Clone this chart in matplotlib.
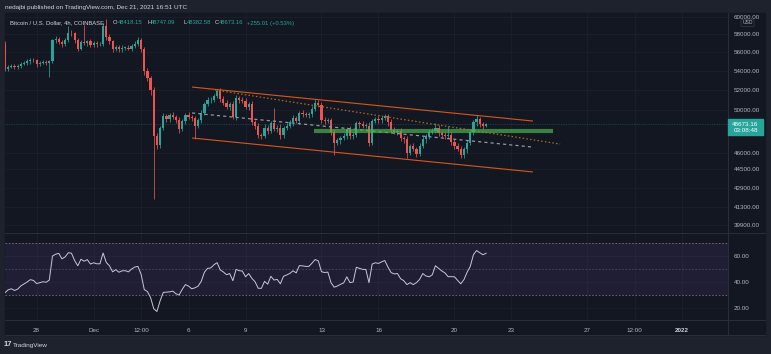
import matplotlib.pyplot as plt
import pandas as pd
from matplotlib.patches import Rectangle
from matplotlib.lines import Line2D

W, H = 771, 354

# 4h candles starting Nov 26 2021 08:00 UTC
start = pd.Timestamp('2021-11-26 08:00')
first_open = 56900
closes = [
    54200, 54450, 54550, 54350, 54500, 54750, 54850, 55000, 55200, 55100,
    54700, 54850, 54950, 54850, 55050, 57300, 57500, 57100, 56900, 57300,
    58200, 58100, 57300, 56400, 57100, 57000, 57200, 56800, 57000, 56900,
    56900, 58900, 57700, 57200, 56300, 56600, 56300, 56500, 56500, 56400,
    56700, 56900, 57300, 56300, 54000, 53200, 52000, 47500, 46700, 48300,
    49400, 49100, 49500, 49300, 49000, 48200, 48900, 49500, 49300, 49200,
    48500, 49000, 49700, 50600, 51000, 51000, 51400, 51900, 51100, 50700,
    50300, 50600, 49300, 51200, 51000, 50900, 50300, 50600, 48800, 48500,
    47600, 47500, 48300, 48000, 48700, 48200, 48300, 47600, 48300, 48500,
    48800, 49200, 48900, 49700, 49600, 49500, 49600, 50100, 50700, 50500,
    49000, 48900, 49000, 47900, 46900, 47100, 47300, 47500, 48200, 47500,
    47600, 48700, 48600, 48500, 48500, 46900, 48900, 49100, 49000, 49200,
    49400, 48800, 48100, 47900, 48000, 47300, 47200, 46000, 46600, 46300,
    45900, 46600, 47200, 47500, 47900, 48000, 48300, 47800, 47600, 47500,
    47600, 47000, 46600, 46300, 45800, 46300, 46900, 47900, 48800, 49100,
    48600, 48418.15, 48673.16,
]
upper_wick = [
    300, 150, 200, 150, 200, 150, 200, 250, 150, 200,
    150, 200, 150, 250, 150, 200, 300, 250, 200, 300,
    800, 300, 200, 250, 300, 2000, 200, 300, 200, 250,
    200, 400, 900, 300, 200, 250, 200, 300, 150, 250,
    200, 300, 400, 250, 300, 250, 200, 300, 250, 200,
    300, 250, 200, 300, 250, 300, 250, 200, 300, 250,
    200, 250, 300, 200, 250, 300, 200, 200, 300, 250,
    300, 200, 250, 300, 200, 250, 300, 200, 250, 200,
    250, 200, 300, 250, 200, 1500, 250, 300, 200, 250,
    200, 300, 250, 200, 300, 250, 200, 250, 400, 300,
    250, 300, 200, 250, 300, 200, 250, 300, 200, 250,
    300, 250, 200, 300, 250, 300, 200, 250, 300, 200,
    250, 200, 300, 250, 200, 300, 250, 300, 200, 250,
    200, 250, 300, 200, 250, 300, 400, 250, 200, 300,
    900, 250, 200, 300, 250, 200, 250, 300, 200, 400,
    250, 200, 74,
]
lower_wick = [
    200, 250, 200, 150, 200, 250, 150, 200, 250, 200,
    250, 200, 150, 250, 1500, 200, 250, 200, 300, 250,
    200, 300, 250, 300, 200, 250, 300, 200, 250, 300,
    250, 200, 300, 250, 300, 200, 250, 300, 250, 200,
    300, 250, 200, 300, 400, 300, 500, 5500, 400, 300,
    250, 300, 250, 200, 300, 400, 250, 300, 200, 300,
    1300, 250, 300, 200, 250, 300, 200, 250, 300, 200,
    250, 300, 200, 250, 300, 200, 250, 300, 250, 300,
    300, 250, 200, 300, 250, 200, 300, 350, 250, 200,
    250, 300, 200, 250, 300, 200, 250, 300, 200, 250,
    300, 250, 200, 300, 1100, 250, 300, 200, 250, 300,
    250, 200, 300, 250, 200, 300, 250, 200, 300, 250,
    200, 300, 250, 200, 300, 250, 300, 500, 250, 200,
    300, 250, 200, 300, 250, 200, 250, 300, 200, 250,
    200, 300, 250, 200, 300, 250, 300, 200, 250, 300,
    200, 250, 36,
]
rsi = [
    31.8, 34.0, 34.8, 33.5, 34.5, 37.0, 38.5, 40.0, 41.8, 41.2,
    38.8, 39.5, 40.2, 39.8, 41.5, 60.0, 61.4, 62.0, 57.8, 59.3,
    62.5, 62.2, 56.5, 52.5, 57.5, 56.0, 57.2, 53.8, 54.8, 54.0,
    54.0, 62.3, 55.0, 52.5, 47.8, 49.5, 47.5, 48.6, 48.7, 47.8,
    50.0, 51.5, 52.0, 46.0, 34.2, 32.6, 28.0, 19.5, 17.3, 25.5,
    32.0, 32.2, 32.4, 33.0, 31.0, 30.0, 34.4, 38.0, 36.8, 34.8,
    35.5, 36.8, 40.5, 47.5, 50.5, 50.8, 53.2, 54.9, 49.3, 47.7,
    45.6, 46.5, 41.0, 49.7, 48.7, 48.4, 44.0, 46.5, 42.8, 40.2,
    35.2, 35.1, 40.5, 38.3, 44.4, 41.5, 42.0, 38.6, 44.4, 45.4,
    46.6, 48.6, 47.0, 52.6, 52.4, 52.0, 52.0, 54.5, 57.3, 56.2,
    47.9, 47.3, 47.6, 39.5, 36.0, 36.9, 38.2, 39.3, 44.0, 39.5,
    40.0, 51.3, 50.5, 49.7, 49.7, 39.5, 53.8, 54.8, 54.3, 55.5,
    56.5, 51.5, 47.2, 46.2, 46.5, 42.5, 41.0, 38.0, 39.5, 38.0,
    39.5, 42.0, 46.5, 44.6, 44.0, 45.5, 52.5, 50.5, 48.5, 47.0,
    44.1, 44.1, 44.0, 41.3, 38.6, 41.8, 47.5, 52.0, 61.0, 64.2,
    62.5, 61.0, 62.1,
]

# 48000 sits under the last-price badge, so it is not listed
price_ticks = [60000, 58000, 56000, 54000, 52000, 50000, 46000,
               44500, 42900, 41300, 39900]
rsi_ticks = [60, 40, 20]
time_ticks = ['2021-11-28', '2021-12-01', '2021-12-03 12:00', '2021-12-06',
              '2021-12-09', '2021-12-13', '2021-12-16', '2021-12-20',
              '2021-12-23', '2021-12-27', '2021-12-29 12:00', '2022-01-01']
time_labels = ['28', 'Dec', '12:00', '6', '9', '13', '16', '20', '23', '27',
               '12:00', '2022']

# drawings as (bar index, price)
channel_top = [(59.1, 52300), (166.8, 48930)]
channel_bottom = [(59.1, 47330), (166.8, 44280)]
trend_dotted = [(66.4, 52000), (175.4, 46770)]
mid_dashed = [(59.1, 49710), (166.5, 46500)]
support = [(97.6, 47980), (173.1, 47980)]

last = {'O': '48418.15', 'H': '48747.09', 'L': '48382.58', 'C': '48673.16'}
change = '+255.01 (+0.53%)'

BG = '#131722'
FRAME = '#1e222d'
GRID = '#1c202c'
SEP = '#2a2e39'
TXT = '#b2b5be'
UP = '#26a69a'
DOWN = '#ef5350'

plt.rcParams['font.family'] = ['Liberation Sans', 'DejaVu Sans']
plt.rcParams['font.size'] = 4.5

fig = plt.figure(figsize=(W / 100, H / 100), dpi=100, facecolor=FRAME)


def fx(px):
    return px / W


def fy(py):
    return 1 - py / H


def pane(x0, y0, x1, y1):
    return fig.add_axes([fx(x0), fy(y1), (x1 - x0) / W, (y1 - y0) / H])


# chart background
fig.add_artist(Rectangle((fx(5), fy(335)), (765 - 5) / W, (335 - 13) / H,
                         transform=fig.transFigure, color=BG, zorder=0))

ax = pane(5, 13, 728, 233)
ax_rsi = pane(5, 233, 728, 320)

n = len(closes)
idx = list(range(n))
opens = [first_open] + closes[:-1]
highs = [max(o, c) + u for o, c, u in zip(opens, closes, upper_wick)]
lows = [min(o, c) - d for o, c, d in zip(opens, closes, lower_wick)]
colors = [UP if c >= o else DOWN for o, c in zip(opens, closes)]

xmin, xmax = 0, 723 / 3.165
t_pos = [(pd.Timestamp(t) - start) / pd.Timedelta(hours=4) for t in time_ticks]

for a in (ax, ax_rsi):
    a.set_facecolor(BG)
    a.set_xlim(xmin, xmax)
    for s in a.spines.values():
        s.set_visible(False)
    a.tick_params(length=0, colors=TXT, labelsize=4.5)
    a.set_xticks(t_pos)
    a.grid(True, color=GRID, lw=0.6)
    a.set_axisbelow(True)
    a.yaxis.tick_right()
    a.tick_params(axis='y', pad=4.3)

# main pane
ax.set_yscale('log')
ax.set_ylim(50000 * 2.718281828 ** (-123 / 510), 50000 * 2.718281828 ** (97 / 510))
ax.set_yticks(price_ticks, [f'{p:.2f}' for p in price_ticks])
ax.minorticks_off()
ax.tick_params(axis='x', labelbottom=False)
for lab in ax.get_yticklabels():
    lab.set_horizontalalignment('left')

ax.vlines(idx, lows, highs, colors=colors, lw=0.55, zorder=3)
ax.bar(idx, [max(abs(c - o), 25) for o, c in zip(opens, closes)],
       bottom=[min(o, c) for o, c in zip(opens, closes)], width=0.7,
       color=colors, lw=0, zorder=4)

ax.axhline(closes[-1], color=UP, lw=0.5, ls=(0, (1, 1.5)), alpha=0.55, zorder=2)

for pts, col, lw, ls, alpha in [
    (channel_top, '#d9571c', 0.8, '-', 1),
    (channel_bottom, '#d9571c', 0.8, '-', 1),
    (trend_dotted, '#b06a1c', 0.9, (0, (1.2, 1.8)), 1),
    (mid_dashed, '#9598a1', 0.9, (0, (2.5, 2.5)), 1),
    (support, '#4caf50', 3.0, '-', 0.7),
]:
    ax.plot([p[0] for p in pts], [p[1] for p in pts], color=col, lw=lw,
            ls=ls, alpha=alpha, zorder=5, solid_capstyle='butt')

# RSI pane
ax_rsi.set_ylim(20 - 12 / 1.3, 60 + 23 / 1.3)
ax_rsi.set_yticks(rsi_ticks, [f'{v:.2f}' for v in rsi_ticks])
for lab in ax_rsi.get_yticklabels():
    lab.set_horizontalalignment('left')
ax_rsi.axhspan(30, 70, color='#7e57c2', alpha=0.12, lw=0, zorder=1)
for lvl, al in [(70, 0.9), (50, 0.5), (30, 0.9)]:
    ax_rsi.axhline(lvl, color='#787b86', lw=0.6, ls=(0, (2, 2)), alpha=al, zorder=2)
ax_rsi.plot(idx, rsi, color='#c9c6d8', lw=0.7, zorder=4)
ax_rsi.set_xticklabels(time_labels)
ax_rsi.tick_params(axis='x', pad=5.5)
lab = ax_rsi.get_xticklabels()[-1]
lab.set_fontweight('bold')
lab.set_color('#d1d4dc')

# separators
for x0, y0, x1, y1 in [(5, 233, 765, 233), (5, 320, 765, 320),
                       (728, 13, 728, 335), (5, 335, 765, 335)]:
    fig.add_artist(Line2D([fx(x0), fx(x1)], [fy(y0), fy(y1)],
                          transform=fig.transFigure, color=SEP, lw=0.7))

# last price label
fig.add_artist(Rectangle((fx(728), fy(135)), 35 / W, 16 / H,
                         transform=fig.transFigure, color=UP, zorder=5))
fig.text(fx(745.5), fy(124.5), last['C'], color='white', ha='center',
         va='center', fontsize=4.5, zorder=6)
fig.text(fx(745.5), fy(131), '03:08:48', color='white', ha='center',
         va='center', fontsize=4.5, zorder=6)

# USD badge
fig.text(fx(747.5), fy(23), 'USD', color=TXT, ha='center', va='center',
         fontsize=3.6, zorder=6,
         bbox=dict(boxstyle='round,pad=0.25', fc=BG, ec='#434651', lw=0.4))

# header
fig.text(fx(5), fy(7), 'nedajbi published on TradingView.com, Dec 21, 2021 16:51 UTC',
         color='#d1d4dc', ha='left', va='center', fontsize=4.6)
LEG = 4.2
fig.text(fx(10), fy(23), 'Bitcoin / U.S. Dollar, 4h, COINBASE', color='#d1d4dc',
         ha='left', va='center', fontsize=LEG)
for (k, v), x, off in zip(last.items(), [113, 147, 183, 215], [4.5, 4.3, 3.5, 4.3]):
    fig.text(fx(x), fy(23), k, color='#d1d4dc', ha='left', va='center', fontsize=LEG)
    fig.text(fx(x + off), fy(23), v, color=UP, ha='left', va='center', fontsize=LEG)
fig.text(fx(247), fy(23), change, color=UP, ha='left', va='center', fontsize=LEG)

# footer logo
fig.text(fx(4), fy(345), '17', color='#d1d4dc', ha='left', va='center',
         fontsize=5.5, fontweight='bold')
fig.text(fx(13), fy(345), 'TradingView', color='#d1d4dc', ha='left', va='center',
         fontsize=4.6)

fig.savefig('out.png', dpi=100, facecolor=FRAME)
